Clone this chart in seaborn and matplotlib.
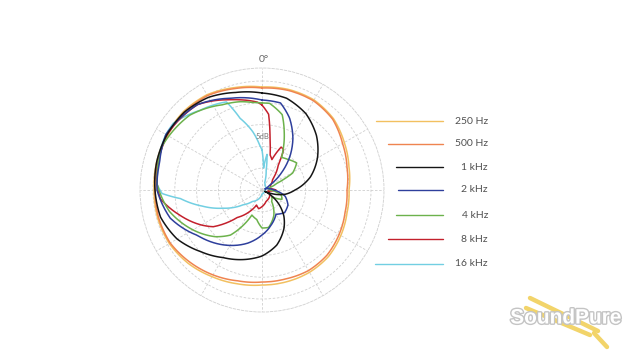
import numpy as np
import pandas as pd
import matplotlib
matplotlib.use("Agg")
import matplotlib.pyplot as plt
import matplotlib.patheffects as pe
from matplotlib.lines import Line2D
import seaborn as sns

# polar response, angle in degrees (clockwise from 0 at top), level in chart units
ANG_250 = [0, 15, 30, 45, 60, 75, 90, 105, 120, 135, 150, 165, 180, 195, 210, 225, 240, 255, 270, 285, 300, 315, 330, 345]
LEV_250 = [103, 104, 104, 101, 95, 90, 87, 88, 91, 94, 95, 95, 95, 97, 100, 104, 107, 108, 108, 109, 110, 111, 110, 106]

ANG_500 = [0, 15, 30, 45, 60, 75, 90, 105, 120, 135, 150, 165, 180, 195, 210, 225, 240, 255, 270, 285, 300, 315, 330, 345]
LEV_500 = [102, 103, 103, 100, 93, 88, 85, 86, 89, 92, 93, 92, 92, 94, 98, 102, 106, 107, 107, 108, 109, 110, 109, 105]

ANG_1K = [0, 15, 30, 45, 60, 75, 90, 100, 108, 115, 122, 130, 140, 150, 165, 180, 195, 210, 225, 240, 255, 270, 285, 300, 315, 330, 345]
LEV_1K = [97, 95, 88, 77, 64, 50, 33, 24, 14, 3, 12, 22, 34, 44, 57, 66, 72, 78, 87, 98, 105, 107, 109, 110, 110, 107, 101]

ANG_2K = [0, 12, 21, 31, 39, 48, 58, 70, 90, 105, 120, 135, 150, 165, 180, 195, 210, 235, 253, 270, 285, 300, 323, 341]
LEV_2K = [90, 89, 77, 60, 45, 27, 9, 3, 12, 24, 30, 32, 28, 36, 45, 55, 64, 79, 96, 105, 106, 111, 107, 97]

ANG_4K = [0, 5, 15, 21, 27, 31, 40, 52, 61, 66, 75, 90, 105, 115, 125, 140, 155, 170, 180, 190, 202, 215, 225, 237, 257, 273, 294, 316, 335, 346, 354]
LEV_4K = [87, 87, 78, 62, 47, 38, 40, 44, 35, 16, 6, 8, 20, 22, 12, 15, 28, 38, 38, 30, 27, 55, 66, 77, 95, 105, 109, 104, 94, 91, 88]

ANG_8K = [0, 5, 9, 13, 18, 24, 28, 33, 45, 60, 80, 90, 100, 130, 160, 190, 200, 210, 222, 233, 240, 253, 265, 276, 289, 300, 323, 340, 346, 357]
LEV_8K = [85, 76, 51, 36, 32, 47, 46, 30, 15, 10, 8, 14, 6, 10, 12, 19, 16, 25, 37, 61, 70, 86, 102, 106, 108, 110, 107, 96, 93, 88]

ANG_16K = [0, 4, 8, 12, 20, 30, 45, 90, 135, 180, 220, 232, 245, 255, 264, 268, 273, 280, 290, 300, 307, 322, 330, 338, 343, 351, 357]
LEV_16K = [40, 22, 36, 20, 8, 6, 5, 3, 3, 4, 15, 24, 43, 62, 82, 100, 105, 106, 109, 111, 111, 101, 98, 95, 75, 59, 45]

LABELS = ["250 Hz", "500 Hz", "1 kHz", "2 kHz", "4 kHz", "8 kHz", "16 kHz"]
COLORS = ["#f2c060", "#ef8450", "#151515", "#2e3f9c", "#6cb24c", "#c3202c", "#72cfe2"]

series = [(ANG_250, LEV_250), (ANG_500, LEV_500), (ANG_1K, LEV_1K), (ANG_2K, LEV_2K),
          (ANG_4K, LEV_4K), (ANG_8K, LEV_8K), (ANG_16K, LEV_16K)]

rows = []
for lab, (ang, lev) in zip(LABELS, series):
    a = list(ang) + [360]
    l = list(lev) + [lev[0]]
    for t, r in zip(a, l):
        rows.append({"freq": lab, "theta": np.deg2rad(t), "level": r})
df = pd.DataFrame(rows)

sns.set_style("white")
plt.rcParams["font.family"] = ["Lato", "DejaVu Sans"]

fig = plt.figure(figsize=(6.4, 3.61), dpi=100)
ax = fig.add_axes([0.21875, 0.1357, 0.38125, 0.6759], projection="polar")
ax.set_theta_zero_location("N")
ax.set_theta_direction(-1)

ring_step = 21.8
grid_kw = dict(color="#cfcfcf", lw=0.6, ls=(0, (3, 2)))
ax.set_ylim(0, 122)
ax.set_yticks([ring_step * k for k in range(1, 6)])
ax.set_yticklabels([])
ax.set_xticks(np.deg2rad(np.arange(0, 360, 30)))
ax.set_xticklabels([])
ax.grid(True, **grid_kw)
ax.spines["polar"].set_color("#cfcfcf")
ax.spines["polar"].set_linewidth(0.6)
ax.spines["polar"].set_linestyle((0, (3, 2)))

# draw back to front so the dark curves sit on top
order = ["250 Hz", "500 Hz", "16 kHz", "8 kHz", "4 kHz", "2 kHz", "1 kHz"]
for lab in order:
    sub = df[df["freq"] == lab]
    sns.lineplot(data=sub, x="theta", y="level", sort=False, estimator=None,
                 color=COLORS[LABELS.index(lab)], lw=1.1, ax=ax, legend=False)
# let the polar transform curve each segment instead of drawing chords
for line in ax.lines:
    line.get_path()._interpolation_steps = 30
ax.set_xlabel("")
ax.set_ylabel("")

ax.text(0, 54, "5dB", ha="center", va="center", fontsize=5.5, color="#777777")
fig.text(264 / 640, 1 - 59 / 361, "0°", ha="center", va="center", fontsize=7.5, color="#666666")

# legend on the right
leg_y = [121, 144, 167, 190, 215, 239, 264]
leg_x0 = [376, 388, 396, 398, 396, 388, 375]
for lab, col, y, x0 in zip(LABELS, COLORS, leg_y, leg_x0):
    fy = 1 - y / 361
    fig.add_artist(Line2D([x0 / 640, 443 / 640], [fy, fy], color=col, lw=1.0,
                          transform=fig.transFigure))
    fig.text(488 / 640, fy, lab, ha="right", va="center", fontsize=7.5,
             color="#505050")

# watermark
fork = "#f2d46a"
for (x0, y0, x1, y1) in [(530, 298, 598, 331), (526, 308, 590, 335), (594, 333, 607, 347)]:
    fig.add_artist(Line2D([x0 / 640, x1 / 640], [1 - y0 / 361, 1 - y1 / 361], color=fork,
                          lw=3.2, solid_capstyle="round", transform=fig.transFigure, zorder=1))
fig.text(566 / 640, 1 - 318 / 361, "SoundPure", ha="center", va="center", fontsize=15,
         fontweight="bold", color="white", family=["Liberation Sans Narrow", "Liberation Sans"],
         zorder=2, path_effects=[pe.withStroke(linewidth=2, foreground="#c4c4c4")])

fig.savefig("out.png", dpi=100)
